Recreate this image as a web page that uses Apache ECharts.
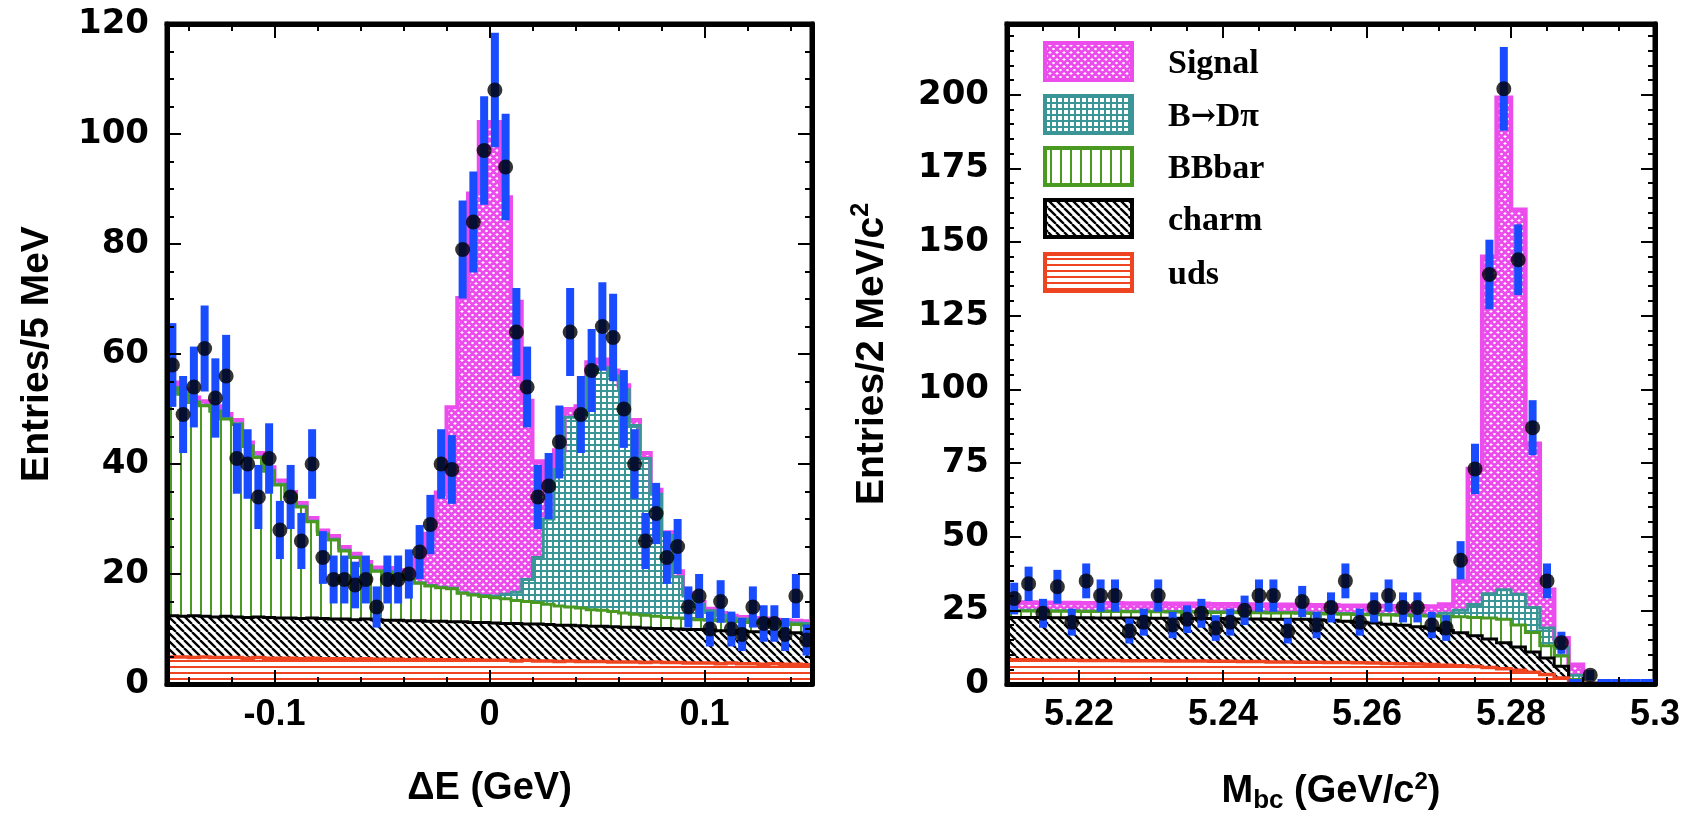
<!DOCTYPE html>
<html>
<head>
<meta charset="utf-8">
<script src="https://cdn.jsdelivr.net/npm/echarts@6/dist/echarts.min.js"></script>
<style>
  html, body { margin: 0; padding: 0; background: #ffffff; }
  #c { width: 1693px; height: 821px; }
</style>
</head>
<body>
<div id="c"></div>
<script>
// ---------------- ΔE panel: 60 bins of 5 MeV, -0.15 .. 0.15 GeV ----------------
const deRange = [-0.15, 0.15];
const deBin = 0.005;
const deCounts = [58,49,54,61,52,56,41,40,34,41, 28,34,26,40,23,19,19,18,19,14,
                  19,19,20,24,29,40,39,79,84,97, 108,94,64,54,34,36,44,64,49,57,
                  65,63,50,40,26,31,23,25,14,16, 10,15,10,9,14,11,11,9,16,8];
const deUds = [4.9,4.9,4.8,4.9,4.8,4.8,4.8,4.7,4.8,4.7, 4.7,4.7,4.6,4.7,4.6,4.6,4.6,4.5,4.6,4.5,
               4.5,4.5,4.4,4.5,4.4,4.4,4.4,4.3,4.4,4.3, 4.3,4.3,4.2,4.3,4.2,4.2,4.1,4.2,4.1,4.1,
               4.1,4.0,4.0,4.0,3.9,4.0,3.9,3.9,3.8,3.8, 3.8,3.7,3.8,3.7,3.7,3.6,3.7,3.6,3.6,3.5];
const deCharm = [7.5,7.4,7.6,7.4,7.4,7.5,7.4,7.4,7.4,7.4, 7.3,7.3,7.3,7.3,7.3,7.2,7.2,7.2,7.2,7.2,
                 7.1,7.1,7.1,7.0,7.0,7.0,6.9,7.0,6.8,6.9, 6.8,6.7,6.8,6.6,6.7,6.6,6.6,6.5,6.5,6.4,
                 6.4,6.4,6.3,6.3,6.3,6.1,6.2,6.1,6.1,6.1, 6.0,6.0,5.9,5.9,5.8,5.9,5.7,5.7,5.7,5.7];
const deBBbar = [41.4,40.4,38.8,38.3,37.4,35.9,35.0,31.1,29.0,26.6, 24.2,22.2,20.3,17.5,15.3,14.4,12.4,11.3,9.7,8.8,
                 8.7,8.2,7.5,6.8,6.4,6.1,6.0,5.2,5.0,4.7, 4.6,4.5,4.2,4.1,3.9,3.7,3.5,3.3,3.2,3.0,
                 2.9,2.8,2.6,2.4,2.3,2.2,2.0,2.0,2.0,1.8, 1.8,1.8,1.7,1.7,1.7,1.6,1.6,1.6,1.5,1.5];
const deBDpi = [0.1,0.1,0.1,0.1,0.1,0.1,0.1,0.1,0.1,0.1, 0.1,0.1,0.1,0.1,0.1,0.1,0.1,0.1,0.1,0.1,
                0.1,0.1,0.1,0.1,0.1,0.1,0.1,0.1,0.1,0.2, 0.3,0.8,1.5,4.0,8.2,15.5,24.8,34.5,35.2,43.5,
                44.1,42.8,40.6,34.3,28.5,22.2,14.9,7.5,4.1,2.8, 1.7,1.0,0.6,0.5,0.4,0.4,0.3,0.3,0.3,0.3];
const deSignal = [0.9,0.8,0.8,0.7,0.8,0.8,0.7,0.6,0.7,0.6, 0.7,0.6,0.6,0.6,0.6,0.6,0.6,0.6,0.6,0.6,
                  0.7,0.8,1.2,4.4,9.4,17.2,32.9,53.6,72.9,86.1, 86.2,72.2,52.8,32.5,17.5,5.5,3.5,1.5,1.5,1.5,
                  1.5,1.0,0.8,1.0,1.0,0.8,0.6,1.0,0.5,0.4, 0.4,0.4,0.4,0.4,0.4,0.4,0.4,0.4,0.4,0.4];
const deXTicks = [-0.1, 0, 0.1];
const deYTicks = [0, 20, 40, 60, 80, 100, 120];

// ---------------- Mbc panel: 45 bins of 2 MeV, 5.21 .. 5.30 GeV ----------------
const mbcRange = [5.21, 5.30];
const mbcBin = 0.002;
const mbcYMax = 224;
const mbcCounts = [29,34,24,33,21,35,30,30,18,21, 30,20,22,24,19,21,25,30,30,18,
                   28,20,26,35,21,26,30,26,26,20, 19,42,73,139,202,144,87,35,14,0,
                   3,0,0,0,0];
const mbcUds = [8.2,8.2,8.1,8.1,8.1,8.0,8.0,8.0,7.9,7.9, 7.9,7.8,7.8,7.8,7.7,7.7,7.6,7.6,7.5,7.5,
                7.4,7.4,7.3,7.3,7.2,7.1,7.0,6.9,6.8,6.6, 6.4,6.2,5.9,5.6,5.2,4.7,4.0,3.2,2.0,0.3,
                0,0,0,0,0];
const mbcCharm = [14.4,14.4,14.5,14.4,14.4,14.5,14.4,14.4,14.5,14.4, 14.4,14.5,14.4,14.4,14.5,14.4,14.5,14.5,14.5,14.5,
                  14.6,14.4,14.3,14.0,13.8,13.6,13.3,13.0,12.6,12.3, 11.8,11.2,10.5,9.7,8.8,7.9,6.9,5.6,4.0,0.7,
                  0,0,0,0,0];
const mbcBBbar = [2.2,2.2,2.1,2.2,2.2,2.1,2.2,2.2,2.1,2.2, 2.2,2.1,2.2,2.2,2.1,2.2,2.1,2.1,2.1,2.1,
                  2.0,2.1,2.2,2.4,2.6,2.8,3.1,3.4,3.8,4.2, 4.8,5.4,6.2,7.1,8.0,7.4,6.6,4.2,3.5,0.5,
                  0,0,0,0,0];
const mbcBDpi = [0.2,0.2,0.2,0.2,0.2,0.2,0.2,0.2,0.2,0.2, 0.2,0.2,0.2,0.2,0.2,0.2,0.2,0.2,0.2,0.2,
                 0.2,0.2,0.2,0.2,0.2,0.2,0.2,0.2,0.2,0.2, 1.0,2.2,4.4,8.2,10.0,10.5,8.5,6.0,3.0,1.5,
                 0,0,0,0,0];
const mbcSignal = [2.7,2.7,2.7,2.6,2.6,2.6,2.6,2.6,2.6,2.6, 2.6,2.6,2.6,2.6,2.6,2.6,2.6,2.6,2.6,2.6,
                   2.6,2.6,2.7,2.7,2.8,2.8,2.8,2.9,3.0,3.0, 3.0,10.0,46.0,114.4,167.0,130.5,55.5,13.0,3.0,3.5,
                   0,0,0,0,0];
const mbcXTicks = [5.22, 5.24, 5.26, 5.28, 5.30];
const mbcYTicks = [0, 25, 50, 75, 100, 125, 150, 175, 200];

const legendLabels = ['Signal', 'B{r|\u2192}D\u03c0', 'BBbar', 'charm', 'uds'];

// ---------------- colours and hatch fills ----------------
const MAGENTA = '#ec4cec', TEAL = '#3a9696', GREEN = '#4a9a22', RED = '#ef4420', BLUE = '#1a4cff';

function makePattern(w, h, paint) {
  const c = document.createElement('canvas');
  c.width = w; c.height = h;
  const g = c.getContext('2d');
  g.fillStyle = '#ffffff';
  g.fillRect(0, 0, w, h);
  paint(g, w, h);
  return { image: c, repeat: 'repeat' };
}
const patSignal = makePattern(7, 7, (g, w, h) => {
  g.strokeStyle = MAGENTA; g.lineWidth = 2.7; g.beginPath();
  for (const k of [-w, 0, w]) { g.moveTo(k, 0); g.lineTo(k + w, h); g.moveTo(k + w, 0); g.lineTo(k, h); }
  g.stroke();
});
const patBDpi = makePattern(6, 6, (g) => { g.fillStyle = TEAL; g.fillRect(0, 0, 6, 2); g.fillRect(0, 0, 2, 6); });
const patBBbar = makePattern(10, 10, (g) => { g.fillStyle = GREEN; g.fillRect(0, 0, 2, 10); });
const patCharm = makePattern(8, 8, (g, w, h) => {
  g.strokeStyle = '#000000'; g.lineWidth = 2.3; g.beginPath();
  for (const k of [-w, 0, w]) { g.moveTo(k, 0); g.lineTo(k + w, h); }
  g.stroke();
});
const patUds = makePattern(6, 6, (g) => { g.fillStyle = RED; g.fillRect(0, 0, 6, 2); });

// ---------------- series builders ----------------
function bandSeries(xi, yi, x0, bw, lower, upper, fill) {
  return {
    type: 'custom', xAxisIndex: xi, yAxisIndex: yi, silent: true, z: 2,
    data: [[x0, 0]],
    renderItem(params, api) {
      const pts = [];
      for (let i = 0; i < upper.length; i++) {
        const a = x0 + i * bw, b = a + bw;
        pts.push(api.coord([a, upper[i]]), api.coord([b, upper[i]]));
      }
      for (let i = upper.length - 1; i >= 0; i--) {
        const a = x0 + i * bw, b = a + bw;
        pts.push(api.coord([b, lower[i]]), api.coord([a, lower[i]]));
      }
      return { type: 'polygon', shape: { points: pts }, style: { fill: fill, stroke: null } };
    }
  };
}

function outlineSeries(xi, yi, x0, bw, upper, color, width) {
  return {
    type: 'custom', xAxisIndex: xi, yAxisIndex: yi, silent: true, z: 3,
    data: [[x0, 0]],
    renderItem(params, api) {
      const pts = [];
      for (let i = 0; i < upper.length; i++) {
        const a = x0 + i * bw, b = a + bw;
        pts.push(api.coord([a, upper[i]]), api.coord([b, upper[i]]));
      }
      return { type: 'polyline', shape: { points: pts }, style: { stroke: color, lineWidth: width, fill: null } };
    }
  };
}

function stackSeries(xi, yi, x0, bw, layers) {
  const out = [];
  let lower = layers[0].values.map(() => 0);
  const tops = [];
  layers.forEach(L => {
    const upper = lower.map((v, i) => v + L.values[i]);
    out.push(bandSeries(xi, yi, x0, bw, lower, upper, L.fill));
    tops.push({ upper, color: L.color, width: L.width });
    lower = upper;
  });
  tops.reverse().forEach(t => out.push(outlineSeries(xi, yi, x0, bw, t.upper, t.color, t.width)));
  return out;
}

function dataSeries(xi, yi, x0, bw, counts) {
  const pts = counts.map((n, i) => [x0 + (i + 0.5) * bw, n]);
  return [
    {
      type: 'custom', xAxisIndex: xi, yAxisIndex: yi, silent: true, z: 4,
      data: pts,
      renderItem(params, api) {
        const x = api.value(0), n = api.value(1);
        if (n > 0) {
          const e = Math.sqrt(n);
          const t = api.coord([x, n + e]), b = api.coord([x, Math.max(n - e, 0)]);
          return { type: 'rect', shape: { x: t[0] - 4, y: t[1], width: 8, height: b[1] - t[1] }, style: { fill: BLUE } };
        }
        const a = api.coord([x - bw / 2, 0]), c = api.coord([x + bw / 2, 0]);
        return { type: 'rect', shape: { x: a[0], y: a[1] - 5, width: c[0] - a[0], height: 4 }, style: { fill: BLUE } };
      }
    },
    {
      type: 'scatter', xAxisIndex: xi, yAxisIndex: yi, silent: true, z: 5,
      symbol: 'circle', symbolSize: 15, itemStyle: { color: '#000000' },
      data: pts.filter(p => p[1] > 0)
    }
  ];
}

// ---------------- axes: ticks inside on all four sides ----------------
function steps(from, to, step) {
  const v = [];
  for (let k = 0; from + k * step <= to + 1e-9; k++) v.push(Math.round((from + k * step) * 1e6) / 1e6);
  return v;
}
function frameAxes(gridIndex, range, majors, minors, isX, labelStyle, nameCfg) {
  const base = { type: 'value', gridIndex, min: range[0], max: range[1], z: 20, splitLine: { show: false } };
  const tick = (vals, len) => ({ show: true, inside: true, length: len, customValues: vals, lineStyle: { color: '#000', width: 2 } });
  const line = (show) => ({ show, onZero: false, lineStyle: { color: '#000', width: 5 } });
  const pA = isX ? 'bottom' : 'left', pB = isX ? 'top' : 'right';
  return [
    Object.assign({}, base, { position: pA, axisLine: line(true), axisTick: tick(majors, 14),
      axisLabel: Object.assign({ show: true, customValues: majors, color: '#000' }, labelStyle) }, nameCfg),
    Object.assign({}, base, { position: pA, axisLine: line(false), axisTick: tick(minors, 7), axisLabel: { show: false } }),
    Object.assign({}, base, { position: pB, axisLine: line(true), axisTick: tick(majors, 14), axisLabel: { show: false } }),
    Object.assign({}, base, { position: pB, axisLine: line(false), axisTick: tick(minors, 7), axisLabel: { show: false } })
  ];
}

const xLabelStyle = { fontFamily: 'Liberation Sans', fontWeight: 'bold', fontSize: 36, margin: 13 };
const yLabelStyle = { fontFamily: 'DejaVu Sans', fontWeight: 'bold', fontSize: 34, margin: 18 };
const titleFont = { fontFamily: 'Liberation Sans', fontWeight: 'bold', color: '#000' };

const xAxes = [
  ...frameAxes(0, deRange, deXTicks, steps(-0.14, 0.14, 0.02), true, xLabelStyle, {
    name: '\u0394E (GeV)', nameLocation: 'middle', nameGap: 86,
    nameTextStyle: Object.assign({ fontSize: 38 }, titleFont)
  }),
  ...frameAxes(1, mbcRange, mbcXTicks, steps(5.215, 5.295, 0.005), true,
    Object.assign({}, xLabelStyle, { formatter: v => String(Math.round(v * 100) / 100) }), {
    name: '{a|M}{s|bc}{a| (GeV/c}{p|2}{a|)}', nameLocation: 'middle', nameGap: 86,
    nameTextStyle: Object.assign({ fontSize: 38, rich: {
      a: Object.assign({ fontSize: 38, lineHeight: 44 }, titleFont),
      s: Object.assign({ fontSize: 26, lineHeight: 44, verticalAlign: 'bottom', padding: [14, 0, 0, 0] }, titleFont),
      p: Object.assign({ fontSize: 24, lineHeight: 44, verticalAlign: 'top' }, titleFont)
    } }, titleFont)
  })
];
const yAxes = [
  ...frameAxes(0, [0, 120], deYTicks, steps(5, 115, 5), false, yLabelStyle, {
    name: 'Entries/5 MeV', nameLocation: 'middle', nameGap: 110,
    nameTextStyle: Object.assign({ fontSize: 39 }, titleFont)
  }),
  ...frameAxes(1, [0, mbcYMax], mbcYTicks, steps(5, 220, 5), false, yLabelStyle, {
    name: '{a|Entries/2 MeV/c}{p|2}', nameLocation: 'middle', nameGap: 112,
    nameTextStyle: Object.assign({ fontSize: 39, rich: {
      a: Object.assign({ fontSize: 39, lineHeight: 46 }, titleFont),
      p: Object.assign({ fontSize: 25, lineHeight: 46, verticalAlign: 'top' }, titleFont)
    } }, titleFont)
  })
];

const deLayers = [
  { values: deUds, fill: patUds, color: RED, width: 3.5 },
  { values: deCharm, fill: patCharm, color: '#000000', width: 3 },
  { values: deBBbar, fill: patBBbar, color: GREEN, width: 3 },
  { values: deBDpi, fill: patBDpi, color: TEAL, width: 3 },
  { values: deSignal, fill: patSignal, color: MAGENTA, width: 4 }
];
const mbcLayers = [
  { values: mbcUds, fill: patUds, color: RED, width: 3.5 },
  { values: mbcCharm, fill: patCharm, color: '#000000', width: 3 },
  { values: mbcBBbar, fill: patBBbar, color: GREEN, width: 3 },
  { values: mbcBDpi, fill: patBDpi, color: TEAL, width: 3 },
  { values: mbcSignal, fill: patSignal, color: MAGENTA, width: 4.5 }
];

const series = [
  ...stackSeries(0, 0, deRange[0], deBin, deLayers),
  ...dataSeries(0, 0, deRange[0], deBin, deCounts),
  ...stackSeries(4, 4, mbcRange[0], mbcBin, mbcLayers),
  ...dataSeries(4, 4, mbcRange[0], mbcBin, mbcCounts)
];

// legend boxes drawn in the Mbc frame
const legendFills = [patSignal, patBDpi, patBBbar, patCharm, patUds];
const legendColors = [MAGENTA, TEAL, GREEN, '#000000', RED];
const legendTops = [43, 96, 148, 200, 254];
const graphic = [];
legendLabels.forEach((label, k) => {
  graphic.push({
    type: 'rect', z: 30, silent: true,
    shape: { x: 1045, y: legendTops[k], width: 87, height: 37 },
    style: { fill: legendFills[k], stroke: legendColors[k], lineWidth: 4 }
  });
  graphic.push({
    type: 'text', z: 30, silent: true, x: 1168, y: legendTops[k] + 21,
    style: {
      text: label, font: 'bold 34px "Liberation Serif"', fill: '#000', verticalAlign: 'middle',
      rich: { r: { font: 'bold 30px "DejaVu Serif"', fill: '#000' } }
    }
  });
});

const chart = echarts.init(document.getElementById('c'), null, { renderer: 'canvas', width: 1693, height: 821 });
chart.setOption({
  animation: false,
  backgroundColor: '#ffffff',
  grid: [
    { left: 167, top: 24, width: 645, height: 660, show: true, borderColor: '#000', borderWidth: 5, backgroundColor: '#fff' },
    { left: 1007, top: 24, width: 648, height: 660, show: true, borderColor: '#000', borderWidth: 5, backgroundColor: '#fff' }
  ],
  xAxis: xAxes,
  yAxis: yAxes,
  series: series,
  graphic: graphic
});
</script>
</body>
</html>
